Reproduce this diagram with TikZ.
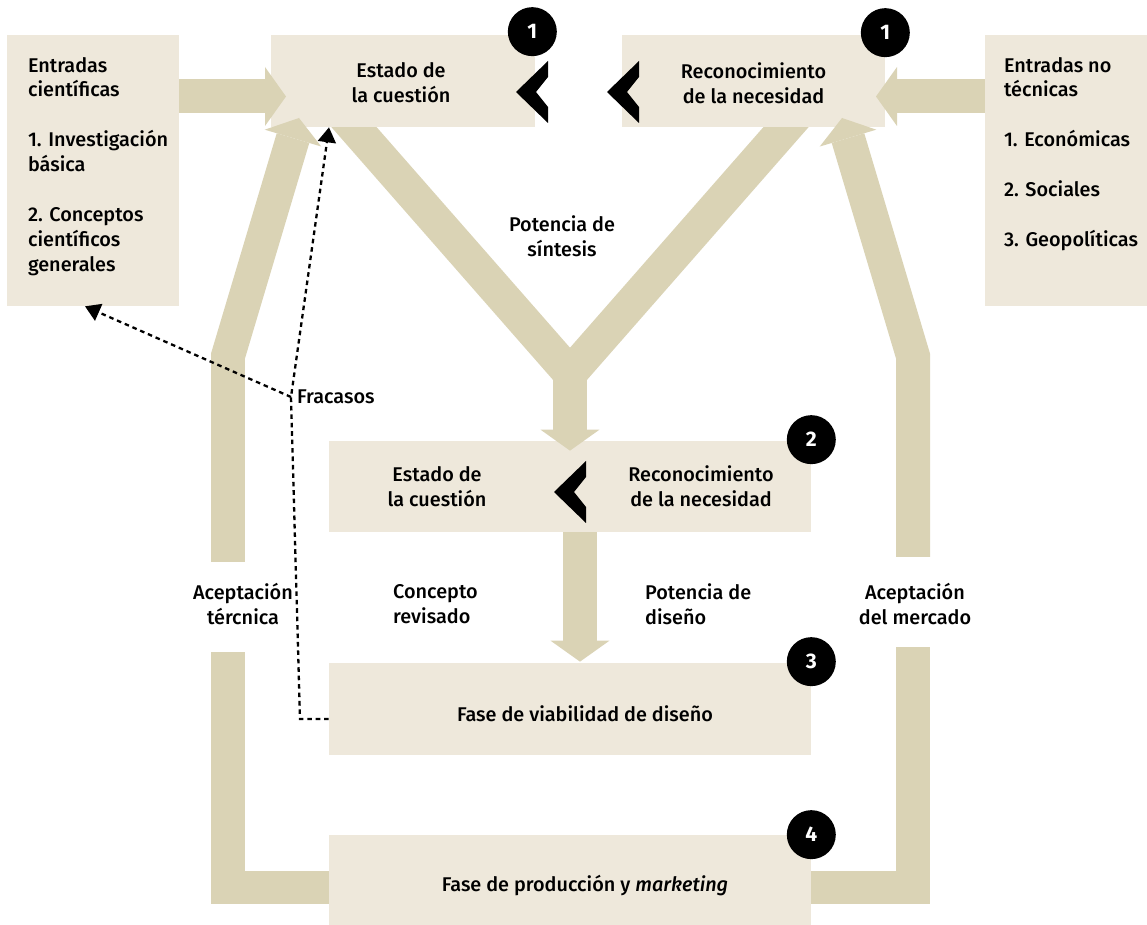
\documentclass[tikz,border=0pt]{standalone}
\usepackage{fontspec}
\setmainfont{Fira Sans}[UprightFont={* Medium},ItalicFont={* Medium Italic},BoldFont={* Bold}]
\usetikzlibrary{arrows.meta, positioning, backgrounds}
\definecolor{boxfill}{HTML}{EEE8DB}
\definecolor{bandfill}{HTML}{DAD3B5}

\begin{document}
\begin{tikzpicture}[x=0.02cm, y=-0.02cm,
    box/.style={rectangle, fill=boxfill, inner sep=0pt, minimum height=1.84cm},
    lbl/.style={font=\fontsize{11.3}{14.2}\selectfont, align=center},
    badge/.style={circle, fill=black, text=white, minimum size=0.98cm, inner sep=0pt,
                  font=\fontsize{12}{14}\selectfont\bfseries},
    band/.style={draw=bandfill, line width=0.68cm},
    fat/.style={band, -{Triangle[length=0.42cm, width=1.18cm, line width=0pt]}},
    fail/.style={dash pattern=on 2.6pt off 2.2pt, line width=1.3pt,
                 -{Triangle[length=0.3cm, width=0.36cm]}},
    chev/.pic={\fill (0,0) -- (32,-31) -- (32,-15) -- (20,0) -- (32,15) -- (32,31) -- cycle;},
]
    \useasboundingbox (0,0) rectangle (1147,925);

    \node[box, minimum width=3.44cm, minimum height=5.42cm] (sci) at (93,170.5) {};
    \node[box, minimum width=5.28cm] (state) at (403,81) {};
    \node[box, minimum width=5.26cm] (need) at (753.5,81) {};
    \node[box, minimum width=3.24cm, minimum height=5.42cm] (ent) at (1066,170.5) {};
    \node[box, minimum width=9.64cm, minimum height=1.82cm] (mid) at (570,486.5) {};
    \node[box, minimum width=9.64cm] (via) at (570,709) {};
    \node[box, minimum width=9.64cm, minimum height=1.8cm] (prod) at (570,880) {};

    \node[lbl, align=left, anchor=north west, inner sep=0pt] at ([shift={(21,22)}]sci.north west)
        {Entradas\\científicas\\[14.2pt]1. Investigación\\básica\\[14.2pt]2. Conceptos\\científicos\\generales};
    \node[lbl, align=left, anchor=north west, inner sep=0pt] at ([shift={(19,22)}]ent.north west)
        {Entradas no\\técnicas\\[14.2pt]1. Económicas\\[14.2pt]2. Sociales\\[14.2pt]3. Geopolíticas};
    \node[lbl] at ([shift={(-2,2)}]state.center) {Estado de\\la cuestión};
    \node[lbl] at ([shift={(0,2)}]need.center) {Reconocimiento\\de la necesidad};
    \node[lbl] at ([shift={(-133,0)}]mid.center) {Estado de\\la cuestión};
    \node[lbl] at ([shift={(131,0)}]mid.center) {Reconocimiento\\de la necesidad};
    \node[lbl] at ([shift={(15,5)}]via.center) {Fase de viabilidad de diseño};
    \node[lbl] at ([shift={(15,6)}]prod.center) {Fase de producción y \textit{marketing}};

    \pic at (516,92) {chev};
    \pic at (607,92) {chev};
    \pic at (554,492) {chev};

    \node[badge] at ([shift={(-3,-3)}]state.north east) {1};
    \node[badge] at ([shift={(0,-2)}]need.north east) {1};
    \node[badge] at ([shift={(0,-1)}]mid.north east) {2};
    \node[badge] at ([shift={(0,-1)}]via.north east) {3};
    \node[badge] at (prod.north east) {4};

    \coordinate (armS) at (339,110);
    \coordinate (armN) at (801,110);
    \coordinate (yJ) at (570,373.5);
    \coordinate (tL) at (286,96.5);
    \coordinate (tR) at (876,96.5);
    \coordinate (kL) at (228,887.5);
    \coordinate (kR) at (912.5,887.5);
    \coordinate (eL) at (228,652);
    \coordinate (eR) at (912.5,647);
    \coordinate (sL) at (228,562);
    \coordinate (bL) at (228,356);
    \coordinate (hL) at (299,118);
    \coordinate (sR) at (913,557);
    \coordinate (bR) at (913,356);
    \coordinate (hR) at (842,118);
    \coordinate (fb) at (300,719);
    \coordinate (fk) at (291,397);

    \begin{scope}[on background layer]
        \draw[band] (armS) -- (yJ) -- (armN);
    \end{scope}
    \draw[fat] (yJ) -- ([shift={(0,10)}]mid.north);
    \draw[fat] ([shift={(10,0)}]mid.south) -- ([shift={(10,-1)}]via.north);
    \draw[fat] (sci.east |- tL) -- (tL);
    \draw[fat] (ent.west |- tR) -- (tR);
    \draw[band] (prod.west |- kL) -- (kL) -- (eL);
    \draw[band] (prod.east |- kR) -- (kR) -- (eR);
    \draw[fat] (sL) -- (bL) -- (hL);
    \draw[fat] (sR) -- (bR) -- (hR);

    \draw[fail] ([shift={(0,10)}]via.west) -- (fb) -- (fk) -- ([shift={(-74,0)}]state.south);
    \draw[fail] (fk) -- ([shift={(-8,0)}]sci.south);

    \node[lbl, right=0pt of fk] {Fracasos};
    \node[lbl] at (562,236) {Potencia de\\síntesis};
    \node[lbl, align=left, anchor=west] at (387,604) {Concepto\\revisado};
    \node[lbl, align=left, anchor=west] at (639,604) {Potencia de\\diseño};
    \node[lbl] at (243,604) {Aceptación\\tércnica};
    \node[lbl] at (915,604) {Aceptación\\del mercado};
\end{tikzpicture}
\end{document}
